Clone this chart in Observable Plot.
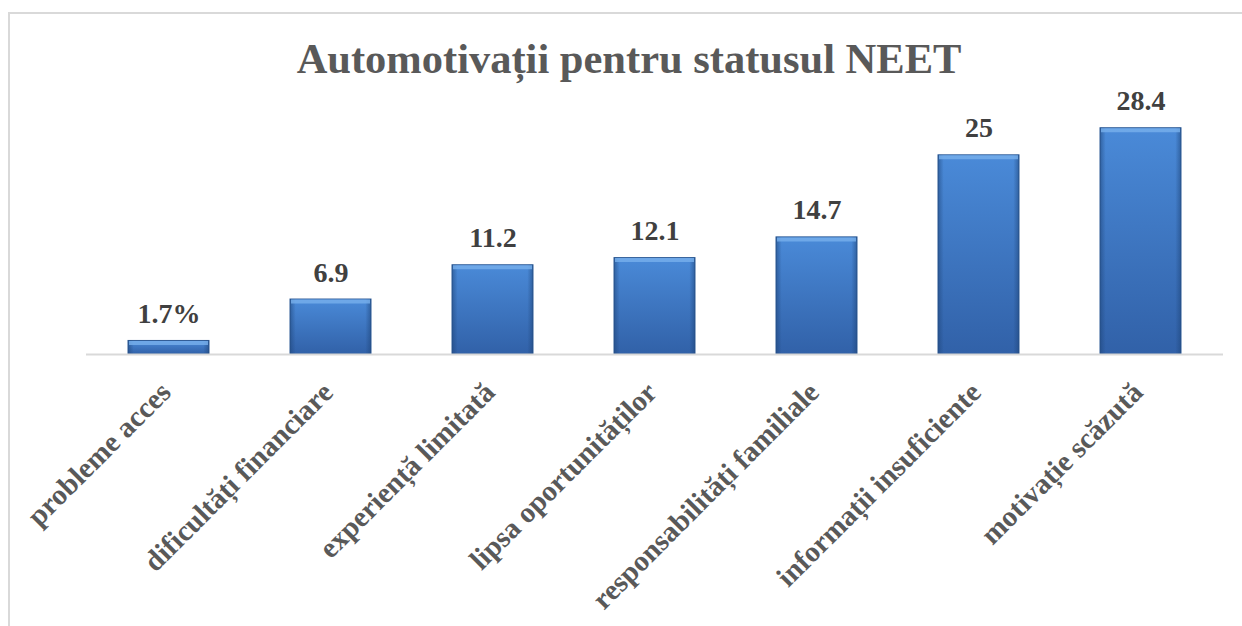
<!DOCTYPE html>
<html>
<head>
<meta charset="utf-8">
<script src="https://cdn.jsdelivr.net/npm/d3@7"></script>
<script src="https://cdn.jsdelivr.net/npm/@observablehq/plot@0.6"></script>
<style>
  html, body { margin: 0; padding: 0; background: #fff; }
  #wrap { position: relative; width: 1242px; height: 626px; overflow: hidden; }
  #frame { position: absolute; left: 8px; top: 12px; width: 1300px; height: 700px;
           border-left: 2px solid #d9d9d9; border-top: 2px solid #d9d9d9; box-sizing: border-box; }
  #title { position: absolute; left: 8px; top: 0; width: 1242px; height: 100px;
           font-family: "Liberation Serif", "Times New Roman", serif; font-weight: bold;
           font-size: 42.5px; color: #595959; text-align: center; line-height: 1; }
  #title span { position: absolute; left: 0; right: 0; top: 38px; }
  #chart { position: absolute; left: 0; top: 100px; }
</style>
</head>
<body>
<div id="wrap">
  <div id="frame"></div>
  <div id="title"><span>Automotivații pentru statusul NEET</span></div>
  <div id="chart"></div>
</div>
<script>
const categories = ["probleme acces", "dificultăți financiare", "experiență limitată", "lipsa oportunităților", "responsabilități familiale", "informații insuficiente", "motivație scăzută"];
const values = [1.7, 6.9, 11.2, 12.1, 14.7, 25, 28.4];
const valueLabels = ["1.7%", "6.9", "11.2", "12.1", "14.7", "25", "28.4"];

const data = categories.map((c, i) => ({cat: c, value: values[i], label: valueLabels[i]}));
const serif = "Liberation Serif, Times New Roman, serif";

const chart = Plot.plot({
  width: 1242,
  height: 526,
  marginLeft: 86,
  marginRight: 19,
  marginTop: 15,
  marginBottom: 272,
  style: {background: "transparent", overflow: "visible"},
  x: {domain: categories, paddingInner: 0.5, paddingOuter: 0.25, axis: null},
  y: {domain: [0, 30], axis: null},
  marks: [
    Plot.barY(data, {x: "cat", y: "value", fill: "url(#barGrad)", stroke: "#2d5a95", strokeWidth: 1}),
    Plot.barY(data, {x: "cat", y: "value", fill: "url(#sideGrad)"}),
    Plot.tickY(data, {x: "cat", y: "value", stroke: "#78b0ec", strokeWidth: 4, dy: 2, strokeOpacity: 0.8, insetLeft: 1, insetRight: 1}),
    Plot.ruleY([0], {stroke: "#d9d9d9", strokeWidth: 2}),
    Plot.text(data, {x: "cat", y: "value", text: "label", dy: -18, lineAnchor: "bottom",
      fontSize: 28, fontWeight: "bold", fill: "#404040", fontFamily: serif}),
    Plot.text(categories, {x: d => d, frameAnchor: "bottom", rotate: -45, textAnchor: "end", lineAnchor: "middle",
      dx: -3, dy: 33, fontSize: 29, fontWeight: "bold", fill: "#595959", fontFamily: serif})
  ]
});

const svg = d3.select(chart);
const defs = svg.insert("defs", ":first-child");
const g1 = defs.append("linearGradient").attr("id", "barGrad").attr("x1", 0).attr("y1", 0).attr("x2", 0).attr("y2", 1);
g1.append("stop").attr("offset", "0%").attr("stop-color", "#4a8ad8");
g1.append("stop").attr("offset", "100%").attr("stop-color", "#3161a8");
const g2 = defs.append("linearGradient").attr("id", "sideGrad").attr("x1", 0).attr("y1", 0).attr("x2", 1).attr("y2", 0);
g2.append("stop").attr("offset", "0%").attr("stop-color", "#1e4478").attr("stop-opacity", 0.55);
g2.append("stop").attr("offset", "7%").attr("stop-color", "#1e4478").attr("stop-opacity", 0);
g2.append("stop").attr("offset", "93%").attr("stop-color", "#1e4478").attr("stop-opacity", 0);
g2.append("stop").attr("offset", "100%").attr("stop-color", "#1e4478").attr("stop-opacity", 0.55);

document.getElementById("chart").appendChild(chart);
</script>
</body>
</html>
